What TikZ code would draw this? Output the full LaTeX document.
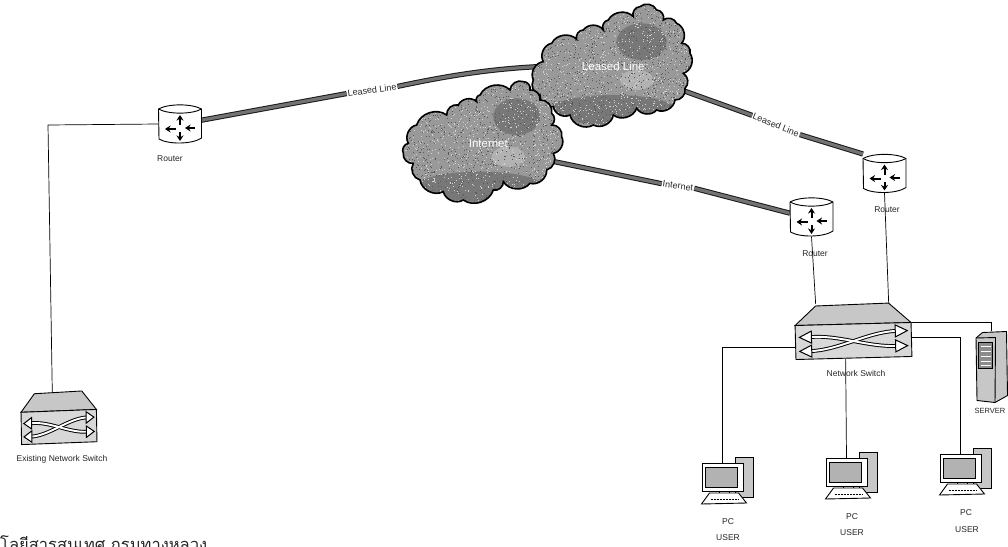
\documentclass[tikz,border=0pt]{standalone}
\usepackage{fontspec}
\setmainfont{Liberation Sans}
\newfontfamily\thaifont[Script=Thai]{Loma}
\usetikzlibrary{arrows.meta}
\definecolor{speck}{gray}{0.78}
\definecolor{cloudmid}{gray}{0.60}
\definecolor{clouddark}{gray}{0.47}
\definecolor{cloudlight}{gray}{0.70}
\definecolor{dotlight}{gray}{0.82}
\definecolor{dotdark}{gray}{0.35}
\tikzset{
  hit/.style={inner sep=0pt,outer sep=0pt},
  lab/.style={font=\fontsize{8.5}{10}\selectfont,text=black!85,inner sep=0pt},
  linklab/.style={font=\fontsize{9}{10}\selectfont,text=black!85,inner sep=1pt},
  thin link/.style={draw=black,line width=.7pt},
  lease/.style={draw=black!90,line width=1pt,double=black!55,double distance=3.2pt},
  icon/.style={draw=black,line width=.9pt},
  cloudtext/.style={font=\fontsize{11.5}{12}\selectfont,text=white,inner sep=0pt},
  spin/.style={line width=2pt,-{Stealth[length=5.5pt,width=7pt]}},
  routericon/.pic={
    \path[icon,fill=white] (-21.5,-15) -- (-21,15) .. controls (-12,20.5) and (12,20.5) .. (21.5,14)
       -- (21.5,-15) .. controls (12,-20.5) and (-12,-20.5) .. (-21.5,-15) -- cycle;
    \draw[icon] (-21.5,-15) .. controls (-12,-9.5) and (12,-9.5) .. (21.5,-15);
    \draw[spin] (0,1) -- (0,-9);
    \draw[spin] (0,8) -- (0,17);
    \draw[spin] (-4,5) -- (-15,5);
    \draw[spin] (15,4) -- (5,4);
  },
  switchicon/.pic={
    \path[icon,fill=speck] (-58,-17) -- (-37,-36) -- (36,-37) -- (58,-17) -- cycle;
    \path[icon,fill=speck!70!white] (-58,-17) -- (58,-17) -- (58,17) -- (-58,17) -- cycle;
    \draw[line width=3.8pt] (-44,-5) .. controls (-15,-7) and (15,7) .. (44,6);
    \draw[line width=3.8pt] (-44,9) .. controls (-15,9) and (15,-9) .. (44,-9);
    \draw[white,line width=1.9pt] (-44,-5) .. controls (-15,-7) and (15,7) .. (44,6);
    \draw[white,line width=1.9pt] (-44,9) .. controls (-15,9) and (15,-9) .. (44,-9);
    \path[draw=black,line width=1pt,fill=white] (-54,-5) -- (-42,-11) -- (-42,1) -- cycle;
    \path[draw=black,line width=1pt,fill=white] (-54,9) -- (-42,3) -- (-42,15) -- cycle;
    \path[draw=black,line width=1pt,fill=white] (54,6) -- (42,0) -- (42,12) -- cycle;
    \path[draw=black,line width=1pt,fill=white] (54,-9) -- (42,-15) -- (42,-3) -- cycle;
  },
  pcicon/.pic={
    \path[icon,fill=speck] (12.5,-20) -- (30.5,-20) -- (30.5,20) -- (12.5,20) -- cycle;
    \path[icon,fill=white] (-3,13) -- (7,13) -- (7,17) -- (-3,17) -- cycle;
    \path[icon,fill=white] (-21,27) -- (-13,16) -- (16,16) -- (24,26) -- cycle;
    \path[icon,fill=white] (-20.5,-14) -- (20.5,-14) -- (20.5,14) -- (-20.5,14) -- cycle;
    \path[draw=black,line width=.5pt,fill=black!30] (-17,-10) -- (15,-10) -- (15,10) -- (-17,10) -- cycle;
    \draw[line width=.5pt,densely dotted] (-12,22) -- (16,22);
  },
  servericon/.pic={
    \path[icon,fill=speck] (-15.5,-28.5) -- (-9,-34) -- (15,-35) -- (16,29) -- (3.5,36) -- (-14.5,34) -- cycle;
    \draw[icon] (-15.5,-28.5) -- (4,-29) -- (3.5,36);
    \path[draw=black,line width=.7pt,fill=black!45] (-13,-24) -- (1,-24) -- (1,2) -- (-13,2) -- cycle;
    \foreach \yy in {-20,-15,-10,-5,-1} \draw[white,line width=.9pt] (-11,\yy) -- (-1,\yy);
  },
}
\newcommand{\cloudA}{(490,185) to[bend left=55] (515,130) to[bend left=55] (590,118) to[bend left=55] (610,90)
  to[bend left=55] (670,90) to[bend left=55] (685,60) to[bend left=55] (760,50) to[bend left=55] (780,20)
  to[bend left=55] (830,30) to[bend left=55] (850,60) to[bend left=55] (890,70) to[bend left=55] (905,130)
  to[bend left=55] (930,160) to[bend left=55] (910,220) to[bend left=55] (915,265) to[bend left=55] (885,300)
  to[bend left=55] (830,330) to[bend left=55] (770,325) to[bend left=55] (700,345) to[bend left=55] (640,375)
  to[bend left=55] (570,345) to[bend left=55] (520,320) to[bend left=55] (480,285) to[bend left=55] (460,240)
  to[bend left=55] (490,185) -- cycle}
\newcommand{\cloudB}{(85,430) to[bend left=55] (110,375) to[bend left=55] (200,345) to[bend left=55] (235,315)
  to[bend left=55] (290,305) to[bend left=55] (300,285) to[bend left=55] (390,270) to[bend left=55] (430,245)
  to[bend left=55] (450,270) to[bend left=55] (480,300) to[bend left=55] (515,340) to[bend left=55] (515,375)
  to[bend left=55] (545,410) to[bend left=55] (520,460) to[bend left=55] (500,510) to[bend left=55] (450,550)
  to[bend left=55] (370,545) to[bend left=55] (340,570) to[bend left=55] (250,600) to[bend left=55] (190,575)
  to[bend left=55] (120,540) to[bend left=55] (100,490) to[bend left=55] (70,460) to[bend left=55] (85,430) -- cycle}
% speckle over a cloud: arguments are left, top, width, height in the scope's units
\newcommand{\cloudspeck}[4]{%
  \foreach \i in {1,...,1000}{%
    \pgfmathsetmacro{\dx}{#1+rnd*#3}\pgfmathsetmacro{\dy}{#2+rnd*#4}%
    \fill[dotlight] (\dx,\dy) rectangle ++(2.4,2.4);
    \pgfmathsetmacro{\ex}{#1+rnd*#3}\pgfmathsetmacro{\ey}{#2+rnd*#4}%
    \fill[dotdark] (\ex,\ey) rectangle ++(2.4,2.4);
  }%
}
\begin{document}
\begin{tikzpicture}[x=1pt,y=-1pt]
\pgfmathsetseed{4711}
\useasboundingbox (0,0) rectangle (1008,546);
\fill[white] (0,0) rectangle (1008,546);
% invisible anchors of the icons
\node[hit,minimum width=43pt,minimum height=39pt] (r1) at (180,124) {};
\node[hit,minimum width=43pt,minimum height=39pt] (r2) at (884.5,173.5) {};
\node[hit,minimum width=43pt,minimum height=39pt] (r3) at (811.5,217) {};
\node[hit,minimum width=117pt,minimum height=55pt] (sw) at (853.5,331.5) {};
\node[hit,minimum width=76pt,minimum height=50pt] (sw0) at (59,418) {};
\node[hit,minimum width=41pt,minimum height=28pt] (p1) at (722.5,477) {};
\node[hit,minimum width=41pt,minimum height=28pt] (p2) at (846.5,472) {};
\node[hit,minimum width=41pt,minimum height=28pt] (p3) at (960.5,468) {};
\node[hit,minimum width=31pt,minimum height=71pt] (srv) at (991.5,366.5) {};
\node[hit] (cA) at (612,65) {};
\node[hit] (cB) at (483,147) {};
\coordinate (jl) at (48,125);
% link labels
\node[linklab,rotate=8] (ll1) at (372,90) {Leased Line};
\node[linklab,rotate=-22] (ll2) at (776,125) {Leased Line};
\node[linklab,rotate=-8] (ll3) at (678,186) {Internet};
% thin connectors
\draw[thin link] (r1.west) -- (jl) -- (sw0.105);
\draw[thin link] (r3.south) -- (sw.144);
\draw[thin link] (r2.south) -- (sw.38.6);
\draw[thin link] (sw.195) -| (p1.north);
\draw[thin link] (sw.254.7) -- (p2.north);
\draw[thin link] (sw.-6) -| (p3.north);
\draw[thin link] (sw.9) -| (srv.north);
% leased connectors
\draw[lease] (r1.10) -- (ll1.west);
\draw[lease] (ll1.east) to[out=12,in=180] (cA);
\draw[lease] (cA) -- (ll2.west);
\draw[lease] (ll2.east) -- (r2.north west);
\draw[lease] (cB) -- (ll3.west);
\draw[lease] (ll3.east) -- (r3.170);
% icons
\pic at (r1) {routericon};
\pic at (r2) {routericon};
\pic at (r3) {routericon};
\pic[rotate=1.5] at (853.5,341) {switchicon};
\pic[xscale=.65,yscale=.95,rotate=1.5] at (59,427) {switchicon};
\pic at (p1) {pcicon};
\pic at (p2) {pcicon};
\pic at (p3) {pcicon};
\pic at (srv) {servericon};
% clouds
\begin{scope}[shift={(380,0)},x=.3333pt,y=-.3333pt]
  \fill[cloudmid] \cloudA;
  \begin{scope}
    \clip \cloudA;
    \fill[clouddark] (700,330) ellipse [x radius=190,y radius=45];
    \fill[clouddark] (785,125) ellipse [x radius=75,y radius=55];
    \fill[cloudlight] (770,240) ellipse [x radius=50,y radius=30];
    \cloudspeck{450}{10}{490}{375}
  \end{scope}
  \draw[black,line width=1.6pt] \cloudA;
  \fill[cloudmid] \cloudB;
  \begin{scope}
    \clip \cloudB;
    \fill[clouddark] (300,560) ellipse [x radius=190,y radius=45];
    \fill[clouddark] (410,350) ellipse [x radius=70,y radius=55];
    \fill[cloudlight] (385,470) ellipse [x radius=50,y radius=30];
    \cloudspeck{60}{235}{495}{375}
  \end{scope}
  \draw[black,line width=1.6pt] \cloudB;
  \node[cloudtext] (tA) at (700,200) {Leased Line};
  \node[cloudtext] (tB) at (325,430) {Internet};
\end{scope}
% labels
\node[lab] (l1) at (170,159) {Router};
\node[lab] (l2) at (887,210) {Router};
\node[lab] (l3) at (815,254) {Router};
\node[lab] (l4) at (856,373) {Network Switch};
\node[lab] (l5) at (62,459) {Existing Network Switch};
\node[lab,font=\fontsize{7.5}{9}\selectfont] (l6) at (990,411) {SERVER};
\node[lab] (l7) at (728,522) {PC};
\node[lab] (l8) at (728,538) {USER};
\node[lab] (l9) at (852,517) {PC};
\node[lab] (l10) at (852,533) {USER};
\node[lab] (l11) at (966,513) {PC};
\node[lab] (l12) at (967,530) {USER};
\node[anchor=base west,inner sep=0pt,font=\thaifont\fontsize{16.5}{20}\selectfont,text=black!85] (th) at (0,550) {โลยีสารสนเทศ กรมทางหลวง};
\end{tikzpicture}
\end{document}
